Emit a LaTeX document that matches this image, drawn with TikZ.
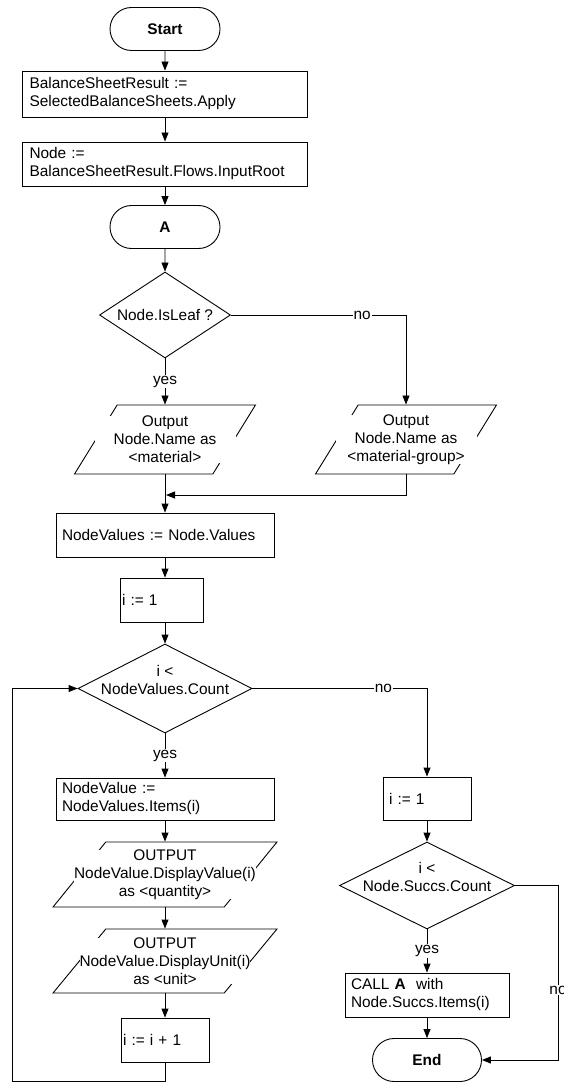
\documentclass[tikz,border=0pt]{standalone}
\usepackage{fontspec}
\setmainfont{Liberation Sans}
\usetikzlibrary{shapes.geometric,shapes.misc,arrows.meta}

\begin{document}
\begin{tikzpicture}[x=1pt,y=-1pt,line width=0.9pt,>={Triangle[length=9pt,width=7pt]},
  font=\fontsize{15.4}{18}\selectfont,
  term/.style={draw,rounded rectangle,minimum width=110pt,minimum height=43pt,inner sep=0pt,font=\fontsize{15.4}{18}\selectfont\bfseries},
  proc/.style={draw,rectangle,align=left,inner xsep=6pt,inner ysep=2pt},
  cond/.style={draw,diamond,inner sep=0pt},
  io/.style={draw,trapezium,trapezium left angle=66,trapezium right angle=114,trapezium stretches=true,inner sep=2pt},
  iotext/.style={fill=white,align=center,inner sep=0pt,minimum width=141pt},
  tag/.style={fill=white,inner sep=1pt}]
\useasboundingbox (0,0) rectangle (564,1083);

\node[term] (start) at (165,29) {Start};
\node[proc,text width=271pt,inner xsep=7pt,minimum height=46pt] (apply) at (165,94) {BalanceSheetResult :=\\SelectedBalanceSheets.Apply};
\node[proc,text width=271pt,inner xsep=7pt,minimum height=44pt] (root) at (165,164) {Node :=\\BalanceSheetResult.Flows.InputRoot};
\node[term] (entry) at (165,227) {A};
\node[cond,minimum width=131pt,minimum height=86pt,label=center:{Node.IsLeaf ?}] (isleaf) at (165,315) {};

\node[io,minimum width=181pt,minimum height=69pt] (outleaf) at (165,439.5) {};
\node[iotext] (outleaftxt) at (outleaf) {Output\\Node.Name as\\<material>};
\node[io,minimum width=181pt,minimum height=69pt] (outgroup) at (406,439.5) {};
\node[iotext] (outgrouptxt) at (outgroup) {Output\\Node.Name as\\<material-group>};
\coordinate (join) at (166,495);

\node[proc,text width=206pt,minimum height=44pt] (values) at (165,535) {NodeValues := Node.Values};
\node[proc,text width=79pt,inner xsep=2pt,minimum height=44pt] (init) at (161.5,600) {i := 1};
\node[cond,minimum width=174pt,minimum height=89pt,label={[align=center,yshift=9pt]center:i <\\NodeValues.Count}] (more) at (165,688.5) {};

\node[proc,text width=206pt,minimum height=42pt] (item) at (165,799) {NodeValue :=\\NodeValues.Items(i)};
\node[io,minimum width=224pt,minimum height=65pt] (outval) at (165,874.5) {};
\node[iotext] (outvaltxt) at (outval) {OUTPUT\\NodeValue.DisplayValue(i)\\as <quantity>};
\node[io,minimum width=224pt,minimum height=64pt] (outunit) at (165,961) {};
\node[iotext] (outunittxt) at (outunit) {OUTPUT\\NodeValue.DisplayUnit(i)\\as <unit>};
\node[proc,text width=84pt,inner xsep=2pt,minimum height=44pt] (inc) at (165,1040) {i := i + 1};
\coordinate (back) at (12.5,1081);

\node[proc,text width=76pt,minimum height=43pt] (init2) at (427,798.5) {i := 1};
\node[cond,minimum width=175pt,minimum height=87pt,label={[align=center,yshift=9pt]center:i <\\Node.Succs.Count}] (moresucc) at (427,885.5) {};
\node[proc,text width=152pt,minimum height=44pt] (call) at (427,995) {CALL \textbf{A}\ \ with\\Node.Succs.Items(i)};
\node[term,minimum width=109pt] (finish) at (427,1060) {End};
\coordinate (exit) at (558,1060);

\draw[->] (start) -- (apply);
\draw[->] (apply) -- (root);
\draw[->] (root) -- (entry);
\draw[->] (entry) -- (isleaf);
\draw[->] (isleaf.south) -- node[tag]{yes} (outleaf.north);
\draw[->] (isleaf.east) -| node[tag,pos=0.375]{no} (outgroup.north);
\draw[->] (outgroup.south) |- (join);
\draw[->] (outleaf.south) -- (values.north);
\draw[->] (values) -- (values |- init.north);
\draw[->] (init.south -| more.north) -- (more);
\draw[->] (more.south) -- node[tag]{yes} (item.north);
\draw[->] (item) -- (outval);
\draw[->] (outval) -- (outunit);
\draw[->] (outunit) -- (inc);
\draw[->] (inc.south) |- (back) |- (more.west);
\draw[->] (more.east) -| node[tag,pos=0.375]{no} (init2.north);
\draw[->] (init2) -- (moresucc);
\draw[->] (moresucc.south) -- node[tag]{yes} (call.north);
\draw[->] (call) -- (finish);
\draw[->] (moresucc.east) -| node[tag,pos=0.8]{no} (exit) -- (finish.east);
\end{tikzpicture}
\end{document}
